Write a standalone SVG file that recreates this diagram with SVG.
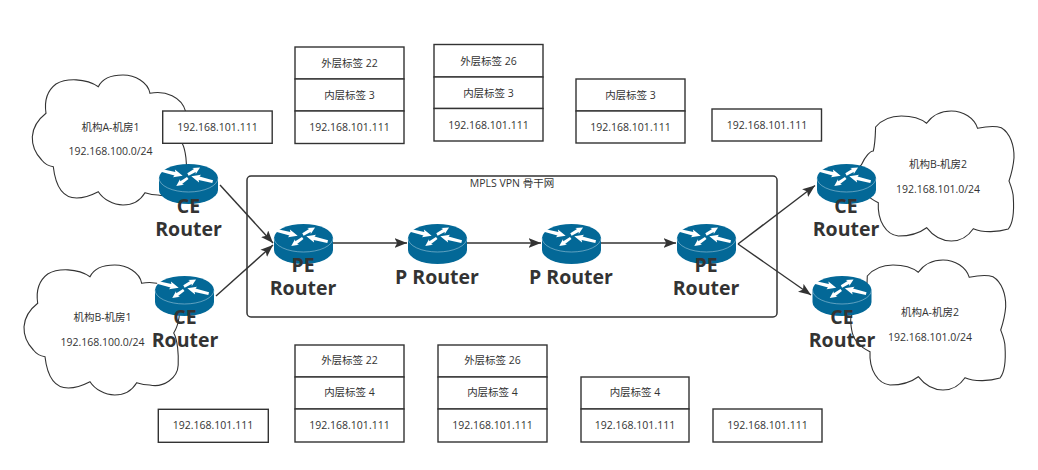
<svg xmlns="http://www.w3.org/2000/svg" width="1038" height="470" viewBox="0 0 1038 470">
<style>
text{font-family:"Open Sans","Noto Sans CJK SC",sans-serif;fill:#333;text-anchor:middle}
.t{font-size:10.5px}
.r{font-size:19.5px;font-weight:700}
.b{fill:#fff;stroke:#333;stroke-width:1.4}
.c{fill:#fff;stroke:#333;stroke-width:1.1}
.l{fill:none;stroke:#333;stroke-width:1.4;marker-end:url(#ah)}
</style>
<defs>
<marker id="ah" markerUnits="userSpaceOnUse" markerWidth="13" markerHeight="10" refX="11.500" refY="4.500" orient="auto" viewBox="0 0 12 9"><path d="M0,0L11.500,4.500L0,9L2.500,4.500Z" fill="#333"/></marker>
<path id="ca" d="M98.3,86.7C103,77 115,75 123,75C135,75 148,82 150,93.3C165,90 182,97 185.7,111.7C190,120 187,135 182,143C186,150 187,165 186.5,175C186,188 172,198 158,195C153,195 149,194 145,192.7C140,201 132,205 123,205C113,205 103,199 98.3,191.7C88,197 80,198 76.7,198C65,198 56,190 53.3,166.7C48,166 44,163 41.7,160C35,153 32,145 32.3,136.7C33,126 40,118 46,113.3C44,100 48,90 56,84C66,78 86,78 98.3,86.7Z"/>
<path id="cb" d="M867.3,276C875,267 885,265 893,265C904,265 913,268 918.3,272.3C925,263 935,260 943,260C955,260 966,267 969.3,277.3C980,275 988,275 993,276.7C1002,282 1006,295 1005.7,306.7C1005,316 1003,323 1000.7,330C1003,336 1005,341 1005,346.7C1006,362 1004,373 1000,378C990,381 975,382 965,377.7C960,385 952,390 943,390C933,390 924,384 918.3,376.7C910,383 900,385 890,385C878,384 869,370 870,351.7C860,347 853,339 851.7,330C850,320 850,315 853,314C857,305 862,300 865,300C867,292 867,284 867.3,276Z"/>
<g id="rt">
<path d="M0,14A29.5,14 0 0 1 59,14V26A29.5,14 0 0 1 0,26Z" fill="#036897"/>
<path d="M0,14A29.5,14 0 0 0 59,14" fill="none" stroke="#9cc6da" stroke-width=".6"/>
<g fill="#fff">
<path transform="translate(13,9) rotate(14)" d="M-11,-1.500L3,-1.800L2,-4L11,0L2,4L3,1.800L-11,1.500Z"/>
<path transform="translate(35,7) rotate(-30)" d="M-7,-1.300L1,-1.600L0,-3.500L7,0L0,3.500L1,1.600L-7,1.300Z"/>
<path transform="translate(43,15) rotate(194)" d="M-11,-1.500L3,-1.800L2,-4L11,0L2,4L3,1.800L-11,1.500Z"/>
<path transform="translate(23,18) rotate(145)" d="M-7,-1.300L1,-1.600L0,-3.500L7,0L0,3.500L1,1.600L-7,1.300Z"/>
</g>
</g>
</defs>
<rect width="1038" height="470" fill="#fff"/>

<g id="backbone">
<rect x="247" y="176" width="530" height="141" rx="4" fill="#fff" stroke="#333" stroke-width="1.5"/>
<text class="t" x="512" y="187">MPLS VPN 骨干网</text>
</g>

<g id="cloud-a1"><use href="#ca" class="c"/><text class="t" x="110.500" y="131">机构A-机房1</text><text class="t" x="110.500" y="155">192.168.100.0/24</text></g>
<g id="cloud-b1"><use href="#ca" class="c" transform="translate(-8.3,190)"/><text class="t" x="102.500" y="321">机构B-机房1</text><text class="t" x="102.500" y="346">192.168.100.0/24</text></g>
<g id="cloud-b2"><use href="#cb" class="c" transform="translate(8.3,-149)"/><text class="t" x="938" y="168">机构B-机房2</text><text class="t" x="938" y="193">192.168.101.0/24</text></g>
<g id="cloud-a2"><use href="#cb" class="c"/><text class="t" x="930" y="316">机构A-机房2</text><text class="t" x="930" y="341">192.168.101.0/24</text></g>

<g id="connectors">
<path class="l" d="M220,185L273,243"/>
<path class="l" d="M216,296L273,245"/>
<path class="l" d="M333,243H407"/>
<path class="l" d="M467,243H541"/>
<path class="l" d="M601,243H676"/>
<path class="l" d="M738,244L815,185.500"/>
<path class="l" d="M738,244L811,295"/>
</g>

<g id="pkt-top-1"><rect class="b" x="162.700" y="111" width="109.500" height="32.300"/><text class="t" x="217.500" y="131">192.168.101.111</text></g>
<g id="pkt-top-2">
<rect class="b" x="295" y="47" width="109" height="32"/><text class="t" x="349.500" y="67">外层标签 22</text>
<rect class="b" x="295" y="79" width="109" height="32"/><text class="t" x="349.500" y="99">内层标签 3</text>
<rect class="b" x="295" y="111" width="109" height="32.500"/><text class="t" x="349.500" y="131">192.168.101.111</text>
</g>
<g id="pkt-top-3">
<rect class="b" x="434" y="44.500" width="109" height="32.500"/><text class="t" x="488.500" y="65">外层标签 26</text>
<rect class="b" x="434" y="77" width="109" height="31.500"/><text class="t" x="488.500" y="97">内层标签 3</text>
<rect class="b" x="434" y="108.500" width="109" height="32.500"/><text class="t" x="488.500" y="129">192.168.101.111</text>
</g>
<g id="pkt-top-4">
<rect class="b" x="576" y="79" width="109" height="32"/><text class="t" x="630.500" y="99">内层标签 3</text>
<rect class="b" x="576" y="111" width="109" height="32"/><text class="t" x="630.500" y="131">192.168.101.111</text>
</g>
<g id="pkt-top-5"><rect class="b" x="712" y="109" width="109.500" height="32"/><text class="t" x="767" y="129">192.168.101.111</text></g>

<g id="pkt-bot-1"><rect class="b" x="158.300" y="409.300" width="110" height="33"/><text class="t" x="213" y="429">192.168.101.111</text></g>
<g id="pkt-bot-2">
<rect class="b" x="295" y="345" width="109" height="32"/><text class="t" x="349.500" y="364">外层标签 22</text>
<rect class="b" x="295" y="377" width="109" height="32"/><text class="t" x="349.500" y="396">内层标签 4</text>
<rect class="b" x="295" y="409" width="109" height="33"/><text class="t" x="349.500" y="429">192.168.101.111</text>
</g>
<g id="pkt-bot-3">
<rect class="b" x="438" y="345" width="109" height="32"/><text class="t" x="492.500" y="364">外层标签 26</text>
<rect class="b" x="438" y="377" width="109" height="32"/><text class="t" x="492.500" y="396">内层标签 4</text>
<rect class="b" x="438" y="409" width="109" height="33"/><text class="t" x="492.500" y="429">192.168.101.111</text>
</g>
<g id="pkt-bot-4">
<rect class="b" x="581" y="377" width="108" height="32"/><text class="t" x="635" y="396">内层标签 4</text>
<rect class="b" x="581" y="409" width="108" height="33"/><text class="t" x="635" y="429">192.168.101.111</text>
</g>
<g id="pkt-bot-5"><rect class="b" x="713" y="409" width="109" height="33"/><text class="t" x="767.500" y="429">192.168.101.111</text></g>

<g id="ce1"><use href="#rt" x="159" y="164"/><text class="r" x="188.500" y="213">CE</text><text class="r" x="188.500" y="236">Router</text></g>
<g id="ce2"><use href="#rt" x="155" y="276"/><text class="r" x="185" y="324">CE</text><text class="r" x="185" y="347">Router</text></g>
<g id="pe1"><use href="#rt" x="274" y="224"/><text class="r" x="303" y="272">PE</text><text class="r" x="303" y="295">Router</text></g>
<g id="p1"><use href="#rt" x="408" y="224"/><text class="r" x="437" y="284">P Router</text></g>
<g id="p2"><use href="#rt" x="542" y="224"/><text class="r" x="571" y="284">P Router</text></g>
<g id="pe2"><use href="#rt" x="677" y="224"/><text class="r" x="706" y="272">PE</text><text class="r" x="706" y="295">Router</text></g>
<g id="ce3"><use href="#rt" x="817" y="164"/><text class="r" x="846" y="213">CE</text><text class="r" x="846" y="236">Router</text></g>
<g id="ce4"><use href="#rt" x="812.500" y="276"/><text class="r" x="842" y="324">CE</text><text class="r" x="842" y="347">Router</text></g>
</svg>
